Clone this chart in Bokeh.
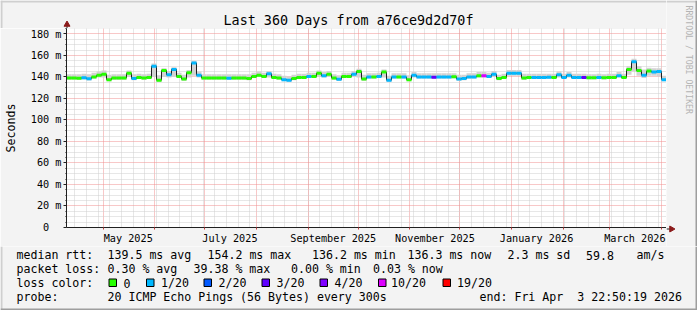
import math
import pandas as pd
from bokeh.plotting import figure
from bokeh.layouts import column, row
from bokeh.models import FixedTicker, Range1d
from bokeh.core.properties import value
from bokeh.embed import file_html
from bokeh.resources import INLINE

# ---------------- data ----------------
START = "2025-04-08 22:50:19"
END = "2026-04-03 22:50:19"
STEP_DAYS = 3

median_ms = [139.0, 139.0, 138.8, 139.2, 138.3, 140.0, 141.5, 142.5, 137.5, 139.0,
             139.0, 139.0, 143.5, 138.5, 139.5, 139.0, 139.5, 150.0, 137.0, 146.0,
             142.0, 147.0, 140.5, 138.0, 144.0, 153.0, 141.5, 139.0, 139.0, 139.0,
             139.0, 139.0, 138.8, 139.0, 139.0, 139.0, 138.5, 140.5, 141.5, 140.5,
             143.0, 139.5, 139.0, 137.5, 137.0, 138.5, 139.5, 139.5, 140.5, 140.5,
             143.5, 141.0, 142.5, 139.0, 137.8, 140.5, 140.5, 142.5, 145.0, 138.0,
             140.0, 140.0, 140.5, 144.5, 137.0, 140.0, 140.0, 140.0, 137.5, 141.5,
             140.0, 140.0, 140.0, 139.8, 140.0, 140.0, 140.0, 140.2, 138.0, 138.5,
             140.0, 140.0, 141.0, 141.0, 140.5, 142.5, 138.5, 139.5, 143.5, 143.5,
             143.5, 139.0, 139.5, 139.5, 139.5, 139.5, 139.8, 139.5, 142.0, 139.5,
             141.5, 139.5, 139.5, 139.5, 139.3, 139.3, 139.5, 139.3, 139.5, 139.5,
             141.0, 139.5, 147.0, 154.2, 146.0, 141.5, 145.5, 144.5, 145.0, 137.5]

smoke_top = [142.5, 142.5, 142.5, 143, 142.5, 144, 145, 146, 142, 142.5,
             142.5, 142.5, 146, 142.5, 143, 142.5, 143, 152.5, 141.5, 148,
             145.5, 149, 144, 142, 146.5, 155, 145, 142.5, 142.5, 142.5,
             142.5, 142.5, 142.5, 142.5, 142.5, 142.5, 142.5, 144, 145, 144,
             145.5, 143, 142.5, 141, 140.5, 142, 143, 143, 144, 144,
             146, 144.5, 145.5, 142.5, 141.5, 144, 144, 145.5, 147.5, 142,
             143.5, 143.5, 144, 147, 141, 143.5, 143.5, 143.5, 141.5, 144.5,
             143.5, 143.5, 143.5, 143.5, 143.5, 143.5, 143.5, 143.5, 142, 142,
             143.5, 143.5, 144.5, 144.5, 144, 145.5, 142, 143, 146.5, 146.5,
             146.5, 143, 143, 143, 143, 143, 143, 143, 145, 143,
             144.5, 143, 143, 143, 142.5, 142.5, 143, 142.5, 143, 143,
             144.5, 143, 150, 157, 150, 147, 148.5, 148, 148, 141]

smoke_bot = [137.5, 137.5, 137.3, 137.7, 136.8, 138.5, 139.5, 139.5, 136, 137.5,
             137.5, 137.5, 140, 137, 138, 137.5, 138, 140, 135.5, 140,
             139.5, 140, 139, 136.5, 139.5, 141, 139.5, 137.5, 137.5, 137.5,
             137.5, 137.5, 137.3, 137.5, 137.5, 137.5, 137, 139, 140, 139,
             139.5, 138, 137.5, 136, 135.5, 137, 138, 138, 139, 139,
             140, 139.5, 140, 137.5, 136.3, 139, 139, 140, 139.5, 136.5,
             138.5, 138.5, 139, 139.5, 135.5, 138.5, 138.5, 138.5, 136, 139.5,
             138.5, 138.5, 138.5, 138.3, 138.5, 138.5, 138.5, 138.7, 136.5, 137,
             138.5, 138.5, 139.5, 139.5, 139, 140, 137, 138, 141, 141,
             141, 137.5, 138, 138, 138, 138, 138.3, 138, 139.5, 138,
             139.5, 138, 138, 138, 137.8, 137.8, 138, 137.8, 138, 138,
             139.5, 138, 142, 145, 141, 139, 141, 141, 140.5, 136]

loss_class = [0, 0, 0, 1, 1, 0, 0, 0, 0, 0,
              0, 0, 0, 1, 0, 0, 0, 1, 0, 0,
              1, 1, 0, 0, 0, 1, 1, 0, 0, 0,
              0, 0, 1, 0, 0, 0, 0, 0, 0, 0,
              1, 0, 0, 1, 1, 0, 0, 0, 1, 0,
              0, 1, 0, 0, 1, 0, 0, 1, 0, 0,
              1, 0, 1, 0, 1, 1, 0, 1, 0, 1,
              1, 1, 1, 3, 1, 1, 1, 0, 1, 1,
              1, 1, 0, 5, 1, 1, 0, 0, 1, 1,
              1, 0, 0, 1, 1, 1, 1, 0, 1, 1,
              1, 1, 1, 3, 0, 0, 1, 0, 0, 0,
              1, 0, 0, 1, 0, 1, 0, 1, 1, 1]

LOSS_LABELS = ["0", "1/20", "2/20", "3/20", "4/20", "10/20", "19/20"]
LOSS_COLORS = ["#26ff00", "#00b8ff", "#0059ff", "#5e00ff", "#7e00ff", "#dd00ff", "#ff0000"]

Y_MAX = 185.04
y_major = [0, 20, 40, 60, 80, 100, 120, 140, 160, 180]
y_labels = ["0\u00a0\u00a0", "20 m", "40 m", "60 m", "80 m", "100 m", "120 m", "140 m", "160 m", "180 m"]
y_minor = [v for v in range(0, 186, 5) if v % 20 != 0]

month_labels = ["May 2025", "July 2025", "September 2025", "November 2025", "January 2026", "March 2026"]
label_months = ["2025-05-01", "2025-07-01", "2025-09-01", "2025-11-01", "2026-01-01", "2026-03-01"]

title = "Last 360 Days from a76ce9d2d70f"
watermark = "RRDTOOL / TOBI OETIKER"
legend_text = ["median rtt:", "139.5 ms avg", "154.2 ms max", "136.2 ms min",
               "136.3 ms now", "2.3 ms sd", "59.8", "am/s",
               "packet loss:", "0.30 % avg", "39.38 % max", "0.00 % min", "0.03 % now",
               "loss color:",
               "probe:", "20 ICMP Echo Pings (56 Bytes) every 300s",
               "end: Fri Apr\u00a0\u00a03 22:50:19 2026"]
legend_x = [16, 107, 207, 311.5, 407, 507, 585.5, 636,
            16, 107, 193, 290.5, 372.5,
            16,
            16, 107, 479]
legend_row = [0, 0, 0, 0, 0, 0, 0, 0,
              1, 1, 1, 1, 1,
              2,
              3, 3, 3]
box_x = [108.5, 146, 203.5, 261.5, 319.5, 378, 442.5]
box_label_x = [123, 160.5, 218, 276, 334, 390.5, 456.5]

# ---------------- layout constants ----------------
W, H = 697, 310
L, T = 66, 28            # main frame left / top in canvas px
FW, FH = 600, 200        # main frame size
FB = T + FH              # 228
XB = 18                  # x-axis panel height
MAIN_H = FH + XB         # 218
SIDE_W = W - L - FW      # 31
LEG_Y0 = T + MAIN_H      # 246
ROW_Y = [254.5, 268.5, 282.5, 296.5]
BG = "#f3f3f3"
MONO = "DejaVu Sans Mono"
AX = "#202020"
ARR = "#8b1a1a"
SHADE_A = "#cfcfcf"
SHADE_B = "#9e9e9e"


def ms(ts):
    return int(pd.Timestamp(ts).value // 1_000_000)


t0, t1 = pd.Timestamp(START), pd.Timestamp(END)
n = len(median_ms)
assert n == len(smoke_top) == len(smoke_bot) == len(loss_class)
edges = [t0 + pd.Timedelta(days=STEP_DAYS * i) for i in range(n + 1)]
x0 = [ms(e) for e in edges[:-1]]
x1 = [ms(e) for e in edges[1:]]
XMIN, XMAX = ms(t0), ms(t1)

month_starts = [ms(d) for d in pd.date_range("2025-05-01", "2026-04-01", freq="MS")]
weeks = [ms(d) for d in pd.date_range(t0.normalize(), t1, freq="W-MON") if d > t0]
label_pos = [ms(pd.Timestamp(d) + pd.Timedelta(days=15)) for d in label_months]


def pixel_fig(width, height, xr, yr):
    f = figure(width=width, height=height, output_backend="svg", toolbar_location=None,
               x_range=Range1d(*xr), y_range=Range1d(*yr),
               x_axis_location=None, y_axis_location=None,
               min_border=0, min_border_left=0, min_border_right=0,
               min_border_top=0, min_border_bottom=0,
               background_fill_color=BG, border_fill_color=BG, outline_line_color=None)
    f.grid.visible = False
    return f


# ---------------- main chart ----------------
p = figure(width=L + FW, height=MAIN_H, output_backend="svg", toolbar_location=None,
           x_range=Range1d(XMIN, XMAX), y_range=Range1d(0, Y_MAX),
           min_border_left=L, min_border_right=0, min_border_top=0, min_border_bottom=XB,
           background_fill_color="white", border_fill_color=BG, outline_line_color=None)

MAJ = "#f09090"
MIN = "#cfcfcf"
p.xgrid.ticker = FixedTicker(ticks=month_starts, minor_ticks=weeks)
p.ygrid.ticker = FixedTicker(ticks=y_major, minor_ticks=y_minor)
for g in (p.xgrid, p.ygrid):
    g.grid_line_color = MAJ
    g.grid_line_dash = "1 1"
    g.minor_grid_line_color = MIN
    g.minor_grid_line_dash = "1 1"

xa = p.xaxis[0]
xa.ticker = FixedTicker(ticks=label_pos, minor_ticks=month_starts)
xa.major_label_overrides = {v: s for v, s in zip(label_pos, month_labels)}
xa.major_tick_out = 0
xa.major_tick_in = 0
xa.minor_tick_out = 2
xa.minor_tick_in = 0
xa.minor_tick_line_color = "#c04040"
xa.axis_line_color = AX
xa.major_label_standoff = 3
xa.major_label_text_font = MONO
xa.major_label_text_font_size = "10.2px"
xa.major_label_text_color = "#000000"

ya = p.yaxis[0]
ya.ticker = FixedTicker(ticks=y_major, minor_ticks=y_minor)
ya.major_label_overrides = {v: s for v, s in zip(y_major, y_labels)}
ya.major_tick_out = 3
ya.major_tick_in = 0
ya.minor_tick_out = 1
ya.minor_tick_in = 0
ya.major_tick_line_color = AX
ya.minor_tick_line_color = AX
ya.axis_line_color = AX
ya.major_label_standoff = 2
ya.major_label_text_font = MONO
ya.major_label_text_font_size = "10.2px"
ya.major_label_text_color = "#000000"
ya.axis_label = "Seconds"
ya.axis_label_text_font = MONO
ya.axis_label_text_font_size = "11.6px"
ya.axis_label_text_font_style = "normal"
ya.axis_label_text_color = "#000000"
ya.axis_label_standoff = 10

p.quad(left=x0, right=x1, bottom=smoke_bot, top=smoke_top,
       fill_color="#d2d2d2", line_color=None)
p.step(x=x0 + [x1[-1]], y=median_ms + [median_ms[-1]], mode="after",
       line_color="#202020", line_width=1)
seg_colors = [LOSS_COLORS[c] for c in loss_class]
p.segment(x0=x0, x1=x1, y0=median_ms, y1=median_ms, line_color=seg_colors,
          line_width=3)

# ---------------- top strip (title) ----------------
ft = pixel_fig(L + FW, T, (0, L + FW), (T, 0))
ft.quad(left=[0, 0], right=[L + FW, 2], top=[0, 0], bottom=[2, T],
        fill_color=SHADE_A, line_color=None)
ft.text(x=[348], y=[20], text=[title], text_font=value(MONO), text_font_size=value("13.4px"),
        text_align="center", text_baseline="middle", text_color="#000000")
ft.segment(x0=[L + 0.5], y0=[23], x1=[L + 0.5], y1=[T], line_color=AX, line_width=1)
ft.scatter(x=[L + 0.5], y=[24], marker="triangle", size=6, fill_color=ARR, line_color=ARR)

# ---------------- right strip (watermark, x arrow) ----------------
fr = pixel_fig(SIDE_W, T + MAIN_H, (L + FW, W), (T + MAIN_H, 0))
fr.quad(left=[L + FW, W - 2], right=[W, W], top=[0, 0], bottom=[2, T + MAIN_H],
        fill_color=[SHADE_A, SHADE_B], line_color=None)
fr.text(x=[688], y=[5], text=[watermark], angle=-math.pi / 2,
        text_font=value(MONO), text_font_size=value("8.2px"),
        text_align="left", text_baseline="middle", text_color="#b4b4b4")
fr.segment(x0=[L + FW], y0=[FB + 0.5], x1=[L + FW + 5], y1=[FB + 0.5], line_color=AX, line_width=1)
fr.scatter(x=[L + FW + 5], y=[FB + 0.5], marker="triangle", angle=-math.pi / 2, size=6,
           fill_color=ARR, line_color=ARR)

# ---------------- legend strip ----------------
fb = pixel_fig(W, H - LEG_Y0, (0, W), (H, LEG_Y0))
fb.quad(left=[0, 0, W - 2], right=[2, W, W], top=[LEG_Y0, H - 2, LEG_Y0], bottom=[H, H, H],
        fill_color=[SHADE_A, SHADE_B, SHADE_B], line_color=None)
fb.text(x=legend_x, y=[ROW_Y[r] for r in legend_row], text=legend_text,
        text_font=value(MONO), text_font_size=value("11.6px"),
        text_align="left", text_baseline="middle", text_color="#000000")
fb.quad(left=box_x, right=[b + 7.5 for b in box_x], top=[278.5] * len(box_x),
        bottom=[286] * len(box_x), fill_color=LOSS_COLORS, line_color="#000000", line_width=1)
fb.text(x=box_label_x, y=[ROW_Y[2]] * len(box_label_x), text=LOSS_LABELS,
        text_font=value(MONO), text_font_size=value("11.6px"),
        text_align="left", text_baseline="middle", text_color="#000000")

layout = column(row(column(row(ft, spacing=0), p, spacing=0), fr, spacing=0), fb, spacing=0)

open("out.html", "w").write(file_html(layout, INLINE))
